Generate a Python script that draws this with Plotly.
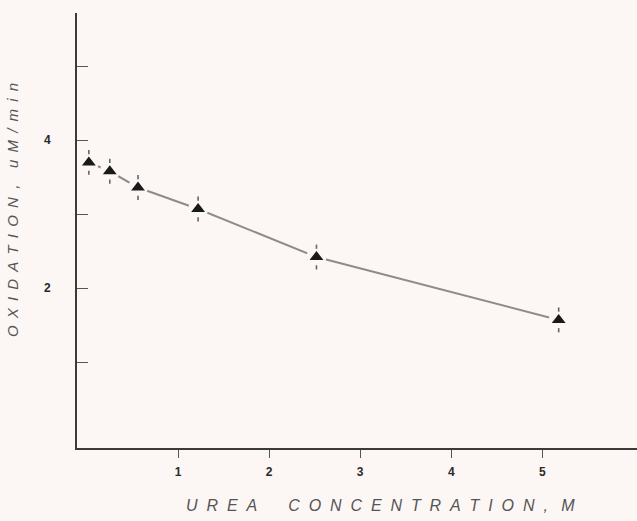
import plotly.graph_objects as go

# Data
urea_m = [0.02, 0.25, 0.56, 1.22, 2.52, 5.18]
oxidation = [3.70, 3.58, 3.36, 3.07, 2.42, 1.57]
err = [0.14, 0.14, 0.14, 0.14, 0.14, 0.14]

x_ticks = [1, 2, 3, 4, 5]
x_ticktext = ["<b>1</b>", "<b>2</b>", "<b>3</b>", "<b>4</b>", "<b>5</b>"]
y_ticks = [1, 2, 3, 4, 5]
y_ticktext = ["", "<b>2</b>", "", "<b>4</b>", ""]

BG = "#fcf7f5"


def spaced(word, gap):
    return gap.join(list(word))


XGAP = "\u00a0\u00a0"
YGAP = "\u00a0\u2009"
x_title = (spaced("UREA", XGAP) + "\u00a0" * 7 + spaced("CONCENTRATION", XGAP)
           + "\u00a0\u00a0,\u00a0\u00a0\u00a0M")
y_title = (spaced("OXIDATION", YGAP) + "\u00a0\u00a0,\u00a0\u00a0\u00a0\u00a0"
           + spaced("uM/min", YGAP))

fig = go.Figure()
fig.add_trace(go.Scatter(x=urea_m, y=oxidation, mode="lines",
                         line=dict(color="#8c8c8c", width=2), hoverinfo="skip"))
fig.add_trace(go.Scatter(x=urea_m, y=oxidation, mode="markers",
                         marker=dict(symbol="circle", size=20, color=BG, line=dict(width=0)),
                         hoverinfo="skip"))
fig.add_trace(go.Scatter(x=urea_m + urea_m,
                         y=[v + e for v, e in zip(oxidation, err)] + [v - e for v, e in zip(oxidation, err)],
                         mode="markers",
                         marker=dict(symbol="line-ns-open", size=3, color="#666666",
                                     line=dict(color="#666666", width=1.6)),
                         hoverinfo="skip"))
fig.add_trace(go.Scatter(x=urea_m, y=oxidation, mode="markers",
                         marker=dict(symbol="triangle-up", size=12, color="#1a1a1a", line=dict(width=0))))

fig.update_layout(
    width=637, height=521,
    margin=dict(l=77, r=0, t=13, b=73),
    paper_bgcolor=BG, plot_bgcolor=BG,
    showlegend=False,
    font=dict(family="Liberation Sans, Arial, sans-serif", color="#333333"),
    xaxis=dict(range=[-0.11, 6.04], showgrid=False, zeroline=False,
               showline=True, linecolor="#3a3a3a", linewidth=2,
               tickmode="array", tickvals=x_ticks, ticktext=x_ticktext,
               ticks="outside", ticklen=8, tickwidth=1.2, tickcolor="#555555",
               tickfont=dict(size=12, color="#2a2a2a", family="Liberation Sans, Arial, sans-serif"),
               ticklabelstandoff=4),
    yaxis=dict(range=[-0.162, 5.72], showgrid=False, zeroline=False,
               showline=True, linecolor="#3a3a3a", linewidth=2,
               tickmode="array", tickvals=y_ticks, ticktext=y_ticktext,
               ticks="inside", ticklen=11, tickwidth=1.2, tickcolor="#555555",
               tickfont=dict(size=12, color="#2a2a2a", family="Liberation Sans, Arial, sans-serif"),
               ticklabelstandoff=22),
)

fig.add_annotation(text=x_title,
                   xref="paper", yref="paper", x=(380 - 77) / 560, y=-(505 - 448) / 435,
                   showarrow=False, xanchor="center", yanchor="middle",
                   font=dict(size=16, color="#555555", family="Liberation Sans, Arial, sans-serif",
                             style="italic"))
fig.add_annotation(text=y_title,
                   xref="paper", yref="paper", x=-(77 - 12) / 560, y=(448 - 210) / 435,
                   showarrow=False, xanchor="center", yanchor="middle", textangle=-90,
                   font=dict(size=15, color="#555555", family="Liberation Sans, Arial, sans-serif",
                             style="italic"))

fig.write_html("out.html", config={"displayModeBar": False},
               post_script="document.body.style.margin='0';document.body.style.overflow='hidden';")
